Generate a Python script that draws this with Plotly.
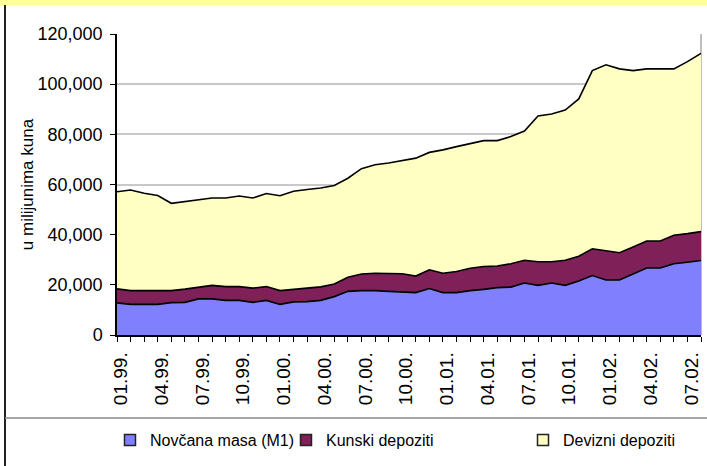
import plotly.graph_objects as go

months = ["01.99.", "02.99.", "03.99.", "04.99.", "05.99.", "06.99.", "07.99.", "08.99.", "09.99.", "10.99.", "11.99.", "12.99.",
          "01.00.", "02.00.", "03.00.", "04.00.", "05.00.", "06.00.", "07.00.", "08.00.", "09.00.", "10.00.", "11.00.", "12.00.",
          "01.01.", "02.01.", "03.01.", "04.01.", "05.01.", "06.01.", "07.01.", "08.01.", "09.01.", "10.01.", "11.01.", "12.01.",
          "01.02.", "02.02.", "03.02.", "04.02.", "05.02.", "06.02.", "07.02.", "08.02."]

m1 = [12800, 12200, 12200, 12200, 12900, 13000, 14400, 14400, 13800, 13800, 13000, 13800,
      12200, 13200, 13300, 13800, 15300, 17400, 17700, 17700, 17400, 17100, 16900, 18500,
      16900, 16900, 17700, 18200, 18900, 19100, 20700, 19800, 20700, 19800, 21500, 23700,
      21900, 21900, 24300, 26700, 26700, 28400, 29000, 29700]
kunski = [5600, 5500, 5500, 5500, 4800, 5300, 4600, 5400, 5500, 5500, 5700, 5500,
          5500, 4900, 5400, 5400, 5000, 5600, 6600, 6900, 7200, 7300, 6600, 7500,
          7700, 8400, 8900, 9100, 8600, 9300, 9100, 9400, 8500, 10000, 9900, 10700,
          11700, 10900, 10800, 10800, 10800, 11400, 11400, 11500]
devizni = [38700, 40100, 38800, 37900, 34800, 35000, 34900, 34800, 35300, 36100, 35900, 37100,
           37800, 39200, 39300, 39400, 39300, 39500, 42000, 43300, 44000, 45200, 47000, 46800,
           49200, 49800, 49800, 50200, 50000, 50700, 51500, 58100, 58900, 59900, 62700, 71000,
           74100, 73300, 70300, 68600, 68600, 66300, 68600, 71100]

series_names = ["Novčana masa (M1)", "Kunski depoziti", "Devizni depoziti"]
series_colors = ["#8080FF", "#7F2059", "#FFFFC4"]
series_values = [m1, kunski, devizni]

y_ticks = [0, 20000, 40000, 60000, 80000, 100000, 120000]

x_idx = list(range(len(months)))
label_idx = x_idx[::3]
label_txt = months[::3]

W, H = 707, 466
ML, MR, MT, MB = 117, 6, 34, 131
pw = W - ML - MR
ph = H - MT - MB


def px_x(px):
    return (px - ML) / pw


def px_y(py):
    return (H - MB - py) / ph


fig = go.Figure()
for name, col, vals in zip(series_names, series_colors, series_values):
    fig.add_trace(go.Scatter(
        x=x_idx, y=vals, name=name, stackgroup="one", mode="lines",
        line=dict(color="black", width=1.6), fillcolor=col,
        showlegend=False, hoverinfo="skip"))

legend_names = ["legend", "legend2", "legend3"]
legend_px = [110, 286, 523]
for name, col, lg in zip(series_names, series_colors, legend_names):
    fig.add_trace(go.Scatter(
        x=[None], y=[None], name=name, mode="markers",
        marker=dict(symbol="square", size=11, color=col, line=dict(color="#222", width=1.5)),
        legend=lg, showlegend=True))

leg_font = dict(family="Liberation Sans, Arial, sans-serif", size=16, color="black")
legend_common = dict(orientation="h", yanchor="middle", xanchor="left", y=px_y(440),
                     font=leg_font, bgcolor="rgba(0,0,0,0)", itemwidth=30,
                     tracegroupgap=0)

fig.update_layout(
    width=W, height=H,
    margin=dict(l=ML, r=MR, t=MT, b=MB, autoexpand=False),
    paper_bgcolor="white", plot_bgcolor="white",
    font=dict(family="Liberation Sans, Arial, sans-serif", size=16, color="black"),
    legend=dict(x=px_x(legend_px[0]), **legend_common),
    legend2=dict(x=px_x(legend_px[1]), **legend_common),
    legend3=dict(x=px_x(legend_px[2]), **legend_common),
    xaxis=dict(
        range=[0, len(months) - 1], tickmode="array", tickvals=label_idx, ticktext=label_txt,
        tickangle=-90, ticks="outside", ticklen=5, tickcolor="black", tickwidth=1,
        minor=dict(dtick=1, tick0=0, ticks="outside", ticklen=5, tickcolor="black", tickwidth=1, showgrid=False),
        showline=True, linecolor="black", linewidth=1.5, showgrid=False, zeroline=False,
        tickfont=dict(size=19), ticklabelshift=4, ticklabelstandoff=3),
    yaxis=dict(
        range=[0, 120000], tickmode="array", tickvals=y_ticks, tickformat=",",
        ticks="outside", ticklen=5, tickcolor="black", tickwidth=1,
        showline=True, linecolor="black", linewidth=1.5,
        showgrid=True, gridcolor="#C8C8C8", gridwidth=1.5, zeroline=False,
        tickfont=dict(size=18), ticklabelstandoff=4,
        title=dict(text="u milijunima kuna", font=dict(size=17), standoff=0)),
    shapes=[
        dict(type="rect", xref="paper", yref="paper", x0=px_x(0), x1=px_x(W), y0=px_y(5), y1=px_y(0),
             fillcolor="#FFFF99", line=dict(width=0), layer="below"),
        dict(type="line", xref="paper", yref="paper", x0=px_x(5), x1=px_x(5), y0=px_y(H), y1=px_y(5),
             line=dict(color="#222", width=2)),
        dict(type="line", xref="paper", yref="paper", x0=px_x(5), x1=px_x(W), y0=px_y(418), y1=px_y(418),
             line=dict(color="#888", width=1.5)),
        dict(type="line", xref="paper", yref="paper", x0=1, x1=1, y0=0, y1=1,
             line=dict(color="#A8A8A8", width=1.5), layer="below"),
    ],
)

fig.write_html("out.html", config={"displayModeBar": False},
               post_script="document.body.style.margin='0';document.body.style.overflow='hidden';")
